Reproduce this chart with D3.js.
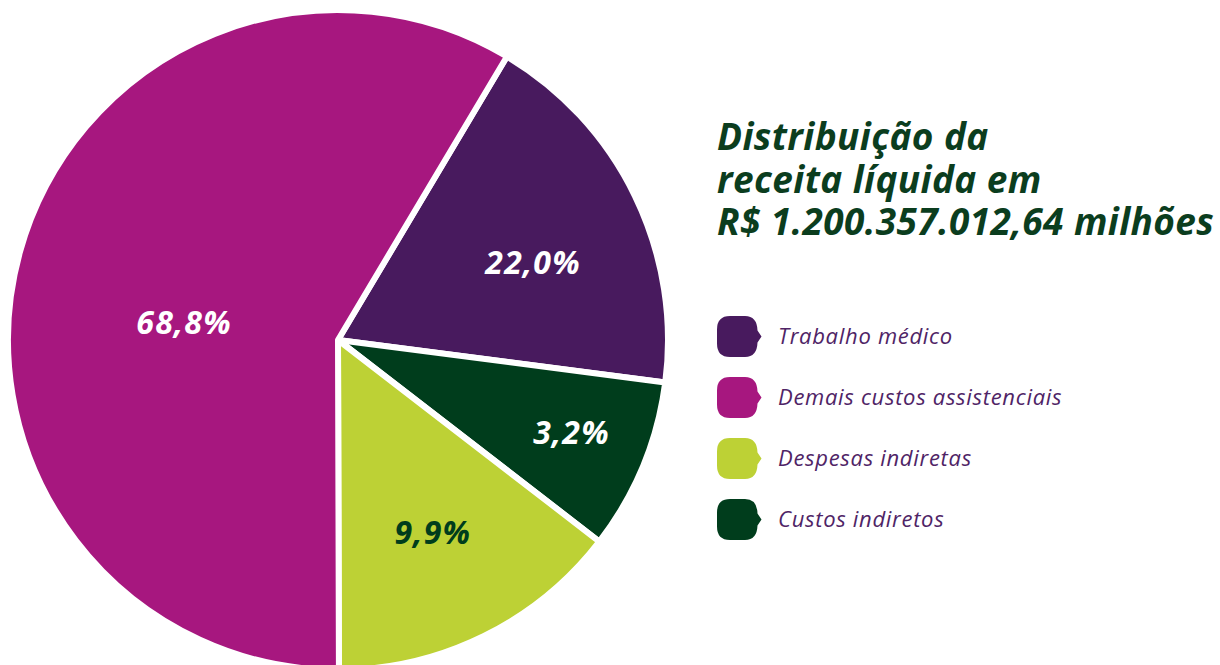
<!DOCTYPE html>
<html>
<head>
<meta charset="utf-8">
<script src="https://cdn.jsdelivr.net/npm/d3@7"></script>
<style>
  html, body { margin: 0; padding: 0; background: #ffffff; }
  svg { display: block; }
</style>
</head>
<body>
<div class="chart"></div>
<script>

// Categorias (ordem do desenho, sentido horário a partir da fatia roxa)
const categories = ["Trabalho médico", "Custos indiretos", "Despesas indiretas", "Demais custos assistenciais"];

// Parcela de cada fatia como aparece desenhada no gráfico (%)
const sliceShares = [18.5, 8.4, 14.5, 58.6];

// Rótulos impressos sobre as fatias
const sliceLabels = ["22,0%", "3,2%", "9,9%", "68,8%"];

const sliceColors = ["#481a5e", "#003d1c", "#bdd135", "#a7177f"];
const labelColors = ["#ffffff", "#ffffff", "#003d1c", "#ffffff"];

// Ordem da legenda
const legendItems = ["Trabalho médico", "Demais custos assistenciais", "Despesas indiretas", "Custos indiretos"];

const titleLines = ["Distribuição da", "receita líquida em", "R$ 1.200.357.012,64 milhões"];

// posição dos rótulos (ângulo em graus, raio)
const labelPlacement = [[68.2, 209], [111.6, 250], [154, 214], [276.6, 156]];

const width = 1220;
const height = 665;

const svg = d3.select(".chart")
    .append("svg")
    .attr("width", width)
    .attr("height", height);

const cx = 338, cy = 340;
const radius = 330;

const pie = d3.pie()
    .sort(null)
    .value(d => d)
    .startAngle(30.8 * Math.PI / 180)
    .endAngle(30.8 * Math.PI / 180 + 2 * Math.PI);

const arc = d3.arc()
    .innerRadius(0)
    .outerRadius(radius);

const g = svg.append("g")
    .attr("transform", `translate(${cx},${cy})`);

const arcs = pie(sliceShares);

g.selectAll("path")
    .data(arcs)
    .enter()
    .append("path")
    .attr("d", arc)
    .attr("fill", (d, i) => sliceColors[i])
    .attr("stroke", "#ffffff")
    .attr("stroke-width", 6)
    .attr("stroke-linejoin", "round");

// Rótulos das fatias
g.selectAll("text.pct")
    .data(arcs)
    .enter()
    .append("text")
    .attr("class", "pct")
    .attr("transform", (d, i) => {
        const p = d3.pointRadial(labelPlacement[i][0] * Math.PI / 180, labelPlacement[i][1]);
        return `translate(${p[0] + 1},${p[1]})`;
    })
    .attr("dy", "0.36em")
    .attr("text-anchor", "middle")
    .attr("fill", (d, i) => labelColors[i])
    .style("font-family", "'Open Sans', sans-serif")
    .style("font-size", "32px")
    .style("font-weight", "700")
    .style("font-style", "italic")
    .style("letter-spacing", "1.2px")
    .text((d, i) => sliceLabels[i]);

// Título (uma linha por elemento de texto)
svg.selectAll("text.title")
    .data(titleLines)
    .enter()
    .append("text")
    .attr("class", "title")
    .attr("x", 717)
    .attr("y", (d, i) => 150 + i * 42.5)
    .attr("fill", "#0b3d1e")
    .style("font-family", "'Open Sans', sans-serif")
    .style("font-size", "37px")
    .style("font-weight", "700")
    .style("font-style", "italic")
    .style("letter-spacing", "0.4px")
    .text(d => d);

// Legenda
const legend = svg.append("g");

const legendY = d3.scalePoint()
    .domain(legendItems)
    .range([336.5, 519.5]);

const item = legend.selectAll("g")
    .data(legendItems)
    .enter()
    .append("g")
    .attr("transform", d => `translate(717,${legendY(d)})`);

// marcador arredondado com pequena ponta à direita
item.append("path")
    .attr("d", "M13,-20.5 H28 Q40,-20.5 40.5,-6 L44.5,0 L40.5,6 Q40,20.5 28,20.5 H13 Q0,20.5 0,7 V-7 Q0,-20.5 13,-20.5 Z")
    .attr("fill", d => sliceColors[categories.indexOf(d)]);

item.append("text")
    .attr("x", 61)
    .attr("dy", "0.35em")
    .attr("fill", "#4f2466")
    .style("font-family", "'Open Sans', sans-serif")
    .style("font-size", "22px")
    .style("font-weight", "400")
    .style("font-style", "italic")
    .style("letter-spacing", "0.7px")
    .text(d => d);

</script>
</body>
</html>
